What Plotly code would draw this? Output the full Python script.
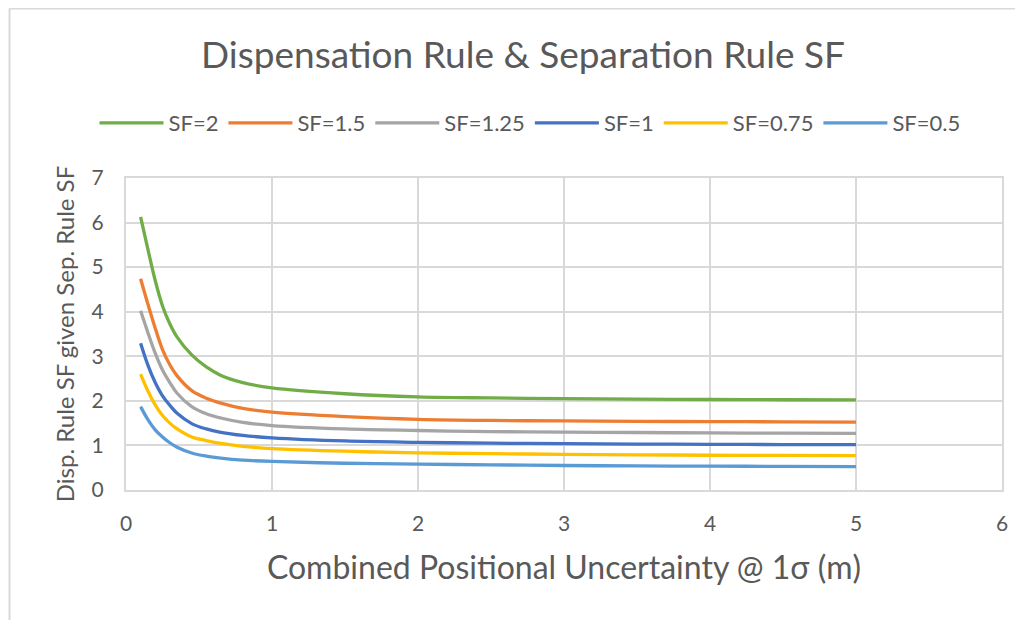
import plotly.graph_objects as go

x_vals = [0.1, 0.15, 0.2, 0.25, 0.3, 0.35, 0.45, 0.55, 0.65, 0.8, 1.0, 1.5, 2, 2.5, 3, 3.5, 4, 4.5, 5]

sf_2 = [6.13, 5.40, 4.70, 4.13, 3.73, 3.43, 3.03, 2.76, 2.57, 2.41, 2.29, 2.16, 2.09, 2.065, 2.05, 2.04, 2.03, 2.025, 2.02]
sf_1_5 = [4.74, 4.17, 3.63, 3.15, 2.81, 2.56, 2.23, 2.06, 1.95, 1.83, 1.745, 1.645, 1.585, 1.56, 1.55, 1.54, 1.535, 1.53, 1.525]
sf_1_25 = [4.02, 3.53, 3.07, 2.69, 2.41, 2.17, 1.87, 1.71, 1.615, 1.515, 1.445, 1.37, 1.335, 1.31, 1.30, 1.29, 1.28, 1.275, 1.27]
sf_1 = [3.29, 2.80, 2.41, 2.11, 1.90, 1.72, 1.49, 1.37, 1.295, 1.225, 1.17, 1.10, 1.07, 1.05, 1.04, 1.03, 1.025, 1.02, 1.02]
sf_0_75 = [2.60, 2.22, 1.91, 1.67, 1.50, 1.37, 1.19, 1.11, 1.045, 0.98, 0.93, 0.87, 0.835, 0.815, 0.80, 0.79, 0.78, 0.775, 0.77]
sf_0_5 = [1.87, 1.58, 1.35, 1.19, 1.06, 0.96, 0.83, 0.76, 0.715, 0.67, 0.64, 0.60, 0.58, 0.565, 0.55, 0.54, 0.535, 0.53, 0.525]

series_names = ["SF=2", "SF=1.5", "SF=1.25", "SF=1", "SF=0.75", "SF=0.5"]
series_values = [sf_2, sf_1_5, sf_1_25, sf_1, sf_0_75, sf_0_5]
series_colors = ["#70AD47", "#ED7D31", "#A5A5A5", "#4472C4", "#FFC000", "#5B9BD5"]

FONT = "Lato"
W, H = 1015, 612
L, R, T, B = 117.5, 21.3, 170.3, 130
pw, ph = W - L - R, H - T - B

fig = go.Figure()
for name, vals, col in zip(series_names, series_values, series_colors):
    fig.add_trace(go.Scatter(x=x_vals, y=vals, name=name, mode="lines",
                             line=dict(color=col, width=3.3, shape="spline", smoothing=1.0)))

def px_to_paper_x(p):
    return (p - L) / pw

def px_to_paper_y(p):
    return (H - B - p) / ph

border = "#D9D9D9"
fig.add_shape(type="line", xref="paper", yref="paper",
              x0=px_to_paper_x(1), x1=px_to_paper_x(W), y0=px_to_paper_y(1), y1=px_to_paper_y(1),
              line=dict(color=border, width=2))
fig.add_shape(type="line", xref="paper", yref="paper",
              x0=px_to_paper_x(1), x1=px_to_paper_x(1), y0=px_to_paper_y(1), y1=px_to_paper_y(H),
              line=dict(color=border, width=2))

fig.update_layout(
    width=W, height=H,
    margin=dict(l=L, r=R, t=T, b=B),
    paper_bgcolor="white", plot_bgcolor="white",
    font=dict(family=FONT, color="#595959"),
    title=dict(text="Dispensation Rule & Separation Rule SF", x=515 / W, xanchor="center",
               y=1 - 47 / H, yanchor="middle", yref="container",
               font=dict(size=37, color="#595959", family=FONT)),
    legend=dict(orientation="h", xref="container", yref="container",
                x=522 / W, xanchor="center", y=1 - 115 / H, yanchor="middle",
                font=dict(size=22, color="#595959"), itemwidth=64, traceorder="normal"),
    xaxis=dict(range=[0, 6], dtick=1, tick0=0, showgrid=True, gridcolor="#D9D9D9", gridwidth=2,
               showline=True, linecolor="#D9D9D9", linewidth=2, mirror=True, zeroline=False,
               ticks="", tickfont=dict(size=21, color="#595959"), ticklabelstandoff=14,
               title=dict(text="Combined Positional Uncertainty @ 1σ (m)", standoff=22,
                          font=dict(size=32, color="#595959"))),
    yaxis=dict(range=[0, 7], dtick=1, tick0=0, showgrid=True, gridcolor="#D9D9D9", gridwidth=2,
               showline=True, linecolor="#D9D9D9", linewidth=2, mirror=True, zeroline=False,
               ticks="", tickfont=dict(size=21, color="#595959"), ticklabelstandoff=16,
               title=dict(text="Disp. Rule SF given Sep. Rule SF", standoff=10,
                          font=dict(size=24, color="#595959"))),
    showlegend=True,
)

fig.write_html("out.html")
